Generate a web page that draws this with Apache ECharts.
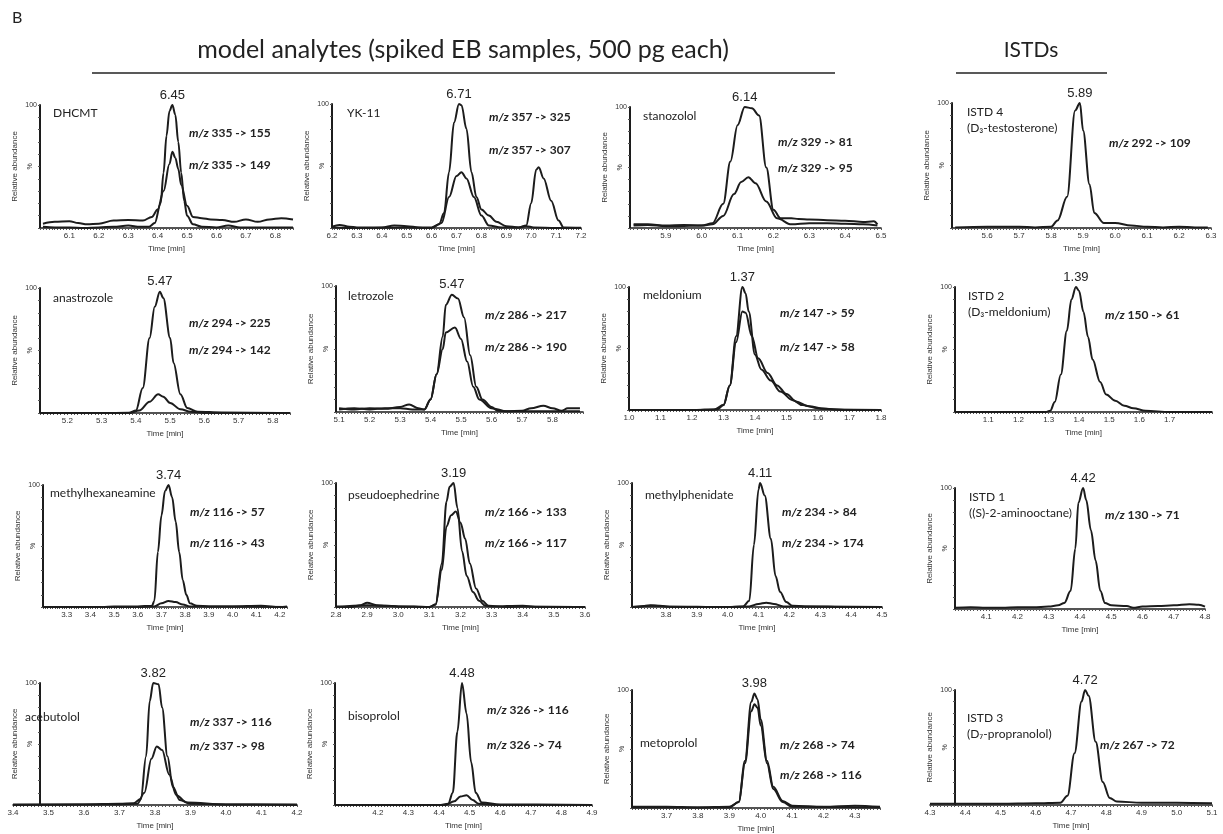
<!DOCTYPE html>
<html><head><meta charset="utf-8">
<script src="https://cdn.jsdelivr.net/npm/echarts@6/dist/echarts.min.js"></script>
<style>html,body{margin:0;background:#fff}#c{width:1223px;height:834px}</style>
</head><body><div id="c"></div>
<script>
// ---------- data (time [min], relative abundance %) ----------
const dhcmt155 = [[6.01,1],[6.05,0.5],[6.1,0.5],[6.15,0],[6.2,0.5],[6.25,1],[6.3,2],[6.34,1],[6.37,1],[6.39,4],[6.41,20],[6.42,45],[6.43,75],[6.44,95],[6.45,100],[6.46,92],[6.47,70],[6.48,45],[6.49,22],[6.5,10],[6.52,3],[6.55,1],[6.6,0.5],[6.64,2],[6.68,0.5],[6.75,0.5],[6.8,0.5],[6.86,0.5]];
const dhcmt149 = [[6.01,3.5],[6.05,5],[6.1,5.5],[6.13,4],[6.16,3],[6.2,3.5],[6.25,6],[6.3,6.5],[6.35,6],[6.38,9],[6.4,15],[6.42,30],[6.44,52],[6.45,62],[6.46,57],[6.47,48],[6.48,35],[6.5,18],[6.52,9],[6.55,8],[6.58,7],[6.62,6.5],[6.66,5],[6.7,7],[6.74,5],[6.78,7],[6.82,8],[6.86,7]];
const yk325 = [[6.2,1],[6.23,2.5],[6.27,1],[6.3,0.5],[6.4,0.5],[6.45,2],[6.5,1.5],[6.55,0.5],[6.6,0.5],[6.63,3],[6.65,12],[6.67,45],[6.69,85],[6.71,100],[6.72,99],[6.74,80],[6.76,45],[6.78,25],[6.8,15],[6.83,10],[6.86,5],[6.9,1.5],[6.95,0.5],[6.98,2],[7.0,20],[7.02,47],[7.03,49],[7.05,40],[7.08,22],[7.11,6],[7.13,0.5],[7.2,0.3]];
const yk307 = [[6.2,0.5],[6.3,0],[6.5,0.5],[6.6,0],[6.64,4],[6.67,25],[6.7,42],[6.72,45],[6.74,40],[6.77,25],[6.8,10],[6.83,2],[6.88,0.5],[6.95,0.5],[6.98,1.5],[7.01,0.5],[7.1,0],[7.2,0]];
const stan81 = [[5.81,3],[5.85,3],[5.9,2],[5.95,2.5],[6.0,2],[6.03,4],[6.06,20],[6.08,55],[6.1,85],[6.12,100],[6.14,99],[6.16,93],[6.18,50],[6.2,15],[6.22,8],[6.25,8],[6.27,7.5],[6.3,7],[6.35,6.5],[6.4,6],[6.45,5],[6.48,5.5],[6.49,3]];
const stan95 = [[5.81,2],[5.85,2.5],[5.9,1.5],[6.0,2],[6.03,3],[6.06,10],[6.09,28],[6.11,38],[6.13,42],[6.15,37],[6.18,22],[6.21,8],[6.25,3],[6.3,4],[6.35,4],[6.4,3.5],[6.45,3],[6.49,2]];
const istd4_109 = [[5.5,0.5],[5.6,1],[5.7,1],[5.75,0.5],[5.8,1],[5.82,6],[5.85,25],[5.875,94],[5.89,100],[5.9,78],[5.92,35],[5.935,12],[5.965,4],[6.0,4],[6.05,2],[6.1,1],[6.15,0.5],[6.2,1],[6.25,0.5],[6.29,0.5]];
const anas225 = [[5.12,0],[5.3,0],[5.38,0.2],[5.4,2],[5.42,20],[5.44,60],[5.455,85],[5.47,97],[5.48,92],[5.5,60],[5.51,40],[5.53,15],[5.55,4],[5.58,1],[5.65,0.5],[5.85,0]];
const anas142 = [[5.12,0],[5.38,0],[5.41,2],[5.44,9],[5.465,15],[5.48,13],[5.5,8],[5.53,3],[5.56,1],[5.6,0],[5.85,0]];
const letr217 = [[5.1,3],[5.15,2],[5.2,3],[5.25,2.5],[5.3,4],[5.33,6],[5.36,3],[5.38,2],[5.4,10],[5.42,30],[5.44,60],[5.45,85],[5.47,93],[5.49,90],[5.51,75],[5.53,45],[5.55,20],[5.57,10],[5.6,4],[5.62,1],[5.65,0.5],[5.7,1],[5.73,3],[5.77,5],[5.8,3],[5.83,1],[5.85,3],[5.89,3]];
const letr190 = [[5.1,2],[5.15,3],[5.2,2],[5.25,3],[5.3,3],[5.34,2],[5.38,2],[5.4,10],[5.42,30],[5.44,50],[5.45,63],[5.48,67],[5.5,58],[5.52,40],[5.54,20],[5.56,10],[5.6,3],[5.65,0.5],[5.7,0.5],[5.8,0.5],[5.89,0.5]];
const meld59 = [[1.0,0],[1.2,0],[1.27,0.5],[1.3,4],[1.32,20],[1.34,60],[1.36,100],[1.37,95],[1.38,80],[1.4,45],[1.42,33],[1.45,24],[1.48,15],[1.52,8],[1.55,4],[1.6,1.5],[1.65,0.5],[1.8,0]];
const meld58 = [[1.0,0],[1.2,0],[1.28,0.5],[1.3,4],[1.32,20],[1.34,55],[1.36,80],[1.37,79],[1.39,60],[1.41,42],[1.44,30],[1.47,20],[1.5,13],[1.53,7],[1.57,3],[1.62,1],[1.7,0],[1.8,0]];
const istd2_61 = [[0.99,0],[1.2,0],[1.29,0],[1.305,1],[1.32,8],[1.34,30],[1.36,65],[1.375,90],[1.39,100],[1.4,97],[1.415,80],[1.43,60],[1.445,42],[1.47,24],[1.49,14],[1.52,9],[1.55,5],[1.58,3],[1.62,1],[1.7,0],[1.84,0]];
const mhxa57 = [[3.2,0],[3.45,0],[3.5,0.5],[3.6,0.5],[3.66,1],[3.67,5],[3.685,45],[3.7,75],[3.715,95],[3.73,100],[3.745,90],[3.76,70],[3.775,45],[3.79,22],[3.805,10],[3.82,3],[3.85,1],[3.9,0.5],[4.0,0.5],[4.12,1],[4.2,0],[4.23,0.5]];
const mhxa43 = [[3.2,0],[3.6,0],[3.67,0.5],[3.7,3],[3.73,5],[3.76,4],[3.79,2],[3.82,0.5],[4.23,0]];
const pseu133 = [[2.8,0.5],[2.85,0],[2.88,1.5],[2.9,3.5],[2.93,1.5],[2.96,1],[3.0,0.5],[3.05,0.5],[3.1,0],[3.12,2],[3.14,35],[3.155,85],[3.165,97],[3.178,100],[3.19,80],[3.205,45],[3.22,25],[3.24,12],[3.26,5],[3.28,1],[3.3,0.5],[3.4,1],[3.45,0],[3.6,0]];
const pseu117 = [[2.8,0],[2.9,1.5],[2.95,1],[3.0,0.5],[3.1,0],[3.12,2],[3.14,30],[3.155,65],[3.17,74],[3.185,77],[3.2,68],[3.215,55],[3.23,35],[3.25,15],[3.27,5],[3.29,1],[3.35,0],[3.4,0.5],[3.6,0]];
const mphd84 = [[3.69,0],[3.72,0.5],[3.75,1.5],[3.78,1],[3.82,0],[4.0,0],[4.05,0.5],[4.07,5],[4.085,50],[4.1,95],[4.105,100],[4.12,90],[4.14,55],[4.155,25],[4.17,12],[4.19,4],[4.21,1],[4.25,0.5],[4.4,0],[4.5,0]];
const mphd174 = [[3.69,0],[3.76,1],[3.8,0.5],[4.0,0],[4.07,0.5],[4.1,2.5],[4.125,3.5],[4.15,2.5],[4.18,0.5],[4.5,0]];
const istd1_71 = [[4.0,1],[4.05,1.5],[4.1,1],[4.15,1],[4.2,1.5],[4.25,1.5],[4.3,2],[4.33,3],[4.35,5],[4.37,15],[4.385,50],[4.395,88],[4.41,100],[4.42,90],[4.435,65],[4.45,40],[4.465,15],[4.48,5],[4.5,3],[4.55,2.5],[4.57,1],[4.6,2],[4.65,2.5],[4.7,3],[4.75,4],[4.78,3.5],[4.8,2]];
const aceb116 = [[3.4,0.5],[3.5,0.5],[3.6,0.5],[3.7,1],[3.74,1.5],[3.76,5],[3.775,40],[3.785,85],[3.795,100],[3.81,99],[3.82,80],[3.835,40],[3.85,15],[3.87,4],[3.9,1],[4.0,0.5],[4.2,0.5]];
const aceb98 = [[3.4,0],[3.7,0.5],[3.75,1],[3.77,10],[3.79,38],[3.805,48],[3.82,45],[3.84,25],[3.86,8],[3.89,2],[4.0,0.5],[4.2,0]];
const biso116 = [[4.06,0],[4.4,0],[4.43,1],[4.445,10],[4.46,60],[4.475,100],[4.49,75],[4.505,35],[4.52,10],[4.54,2],[4.6,0.5],[4.9,0]];
const biso74 = [[4.06,0],[4.42,0],[4.45,3],[4.47,7],[4.49,8],[4.51,4],[4.53,1],[4.6,0],[4.9,0]];
const meto74 = [[3.59,1],[3.7,1],[3.8,0.5],[3.9,1],[3.93,5],[3.95,40],[3.97,90],[3.98,97],[3.99,92],[4.0,75],[4.02,40],[4.04,18],[4.07,6],[4.1,2],[4.2,1],[4.3,2],[4.38,1]];
const meto116 = [[3.59,0.5],[3.7,0.5],[3.9,0.5],[3.93,5],[3.95,38],[3.97,82],[3.98,88],[3.99,85],[4.0,70],[4.02,38],[4.04,16],[4.07,5],[4.1,1],[4.38,0.5]];
const istd3_72 = [[4.3,1],[4.4,1],[4.5,1],[4.6,1.5],[4.67,2],[4.69,8],[4.71,45],[4.73,90],[4.74,100],[4.75,95],[4.77,55],[4.79,20],[4.81,6],[4.83,3],[4.9,2],[5.0,2],[5.1,1.5]];

const compoundNames = [['DHCMT'],['YK-11'],['stanozolol'],['ISTD 4','(D₃-testosterone)'],
  ['anastrozole'],['letrozole'],['meldonium'],['ISTD 2','(D₃-meldonium)'],
  ['methylhexaneamine'],['pseudoephedrine'],['methylphenidate'],['ISTD 1','((S)-2-aminooctane)'],
  ['acebutolol'],['bisoprolol'],['metoprolol'],['ISTD 3','(D₇-propranolol)']];
const transitions = [['335 -> 155','335 -> 149'],['357 -> 325','357 -> 307'],['329 -> 81','329 -> 95'],['292 -> 109'],
  ['294 -> 225','294 -> 142'],['286 -> 217','286 -> 190'],['147 -> 59','147 -> 58'],['150 -> 61'],
  ['116 -> 57','116 -> 43'],['166 -> 133','166 -> 117'],['234 -> 84','234 -> 174'],['130 -> 71'],
  ['337 -> 116','337 -> 98'],['326 -> 116','326 -> 74'],['268 -> 74','268 -> 116'],['267 -> 72']];
const peakLabels = ['6.45','6.71','6.14','5.89','5.47','5.47','1.37','1.39','3.74','3.19','4.11','4.42','3.82','4.48','3.98','4.72'];
const timeRanges = [[6.0,6.86],[6.2,7.2],[5.8,6.5],[5.49,6.3],[5.12,5.85],[5.09,5.9],[1.0,1.8],[0.99,1.84],
  [3.2,4.23],[2.8,3.6],[3.69,4.5],[4.0,4.8],[3.4,4.2],[4.06,4.9],[3.59,4.38],[4.3,5.1]];
// first and last tick label printed on each time axis
const tickLabelSpan = [[6.1,6.8],[6.2,7.2],[5.9,6.5],[5.6,6.3],[5.2,5.8],[5.1,5.8],[1.0,1.8],[1.1,1.7],
  [3.3,4.2],[2.8,3.6],[3.8,4.5],[4.1,4.8],[3.4,4.2],[4.2,4.9],[3.7,4.3],[4.3,5.1]];
const traces = [[dhcmt155,dhcmt149],[yk325,yk307],[stan81,stan95],[istd4_109],
  [anas225,anas142],[letr217,letr190],[meld59,meld58],[istd2_61],
  [mhxa57,mhxa43],[pseu133,pseu117],[mphd84,mphd174],[istd1_71],
  [aceb116,aceb98],[biso116,biso74],[meto74,meto116],[istd3_72]];

// ---------- layout (pixels) ----------
// plot box: left x (start of time axis), top y (=100 %), right x, baseline y ; yShift = y axis position inside box
const boxes = [[40,105,293,228],[332,104,581,228],[630,107,881,228],[952,103,1211,228],
  [40,288,290,413],[336,286,583,412],[629,287,881,410],[955,287,1212,412],
  [43,485,287,607],[336,483,585,607],[632,483,882,607],[955,488,1205,609],
  [13,683,297,805],[335,683,592,805],[632,690,880,808],[930,690,1212,805]];
const yShift = [0,0,0,0, 0,0,0,0, 0,0,0,0, 27,0,0,25];
const nameXY = [[53,113],[347,113],[643,116],[967,112],[53,298],[348,296],[643,295],[968,296],
  [50,493],[348,495],[645,495],[969,497],[25,717],[348,716],[640,743],[967,718]];
const mzX = [189,489,778,1109,189,485,780,1105,190,485,782,1105,190,487,780,1100];
const mzY = [[133,165],[117,150],[142,168],[143],[323,350],[315,347],[313,347],[315],
  [512,543],[512,543],[512,543],[515],[722,746],[710,745],[745,775],[745]];

const FONT_TXT = 'Lato, "Open Sans", sans-serif';
const FONT_AX = '"Liberation Sans", Arial, sans-serif';
const INK = '#1c1c1c';

const grids=[], xAxes=[], yAxes=[], series=[], graphics=[];
boxes.forEach((b,i)=>{
  const [L,T,R,B] = b;
  grids.push({left:L, top:T, width:R-L, height:B-T, containLabel:false});
  const [mn,mx] = timeRanges[i];
  const [lf,lt] = tickLabelSpan[i];
  xAxes.push({type:'value', gridIndex:i, min:mn, max:mx, interval:0.01,
    name:'Time [min]', nameLocation:'middle', nameGap:17,
    nameTextStyle:{fontSize:8, color:'#333', fontFamily:FONT_AX},
    axisLine:{show:true, onZero:false, lineStyle:{color:INK, width:1.6}},
    axisTick:{show:true, length:2, lineStyle:{color:'#555', width:1}},
    splitLine:{show:false},
    axisLabel:{fontSize:8, color:'#333', fontFamily:FONT_AX, margin:4, showMinLabel:true, showMaxLabel:true,
      formatter:(v)=>{const n=Math.round(v*100); if(n%10!==0) return ''; if(v<lf-1e-6 || v>lt+1e-6) return ''; return (n/100).toFixed(1);}}
  });
  yAxes.push({type:'value', gridIndex:i, min:0, max:100, interval:10, offset:-yShift[i],
    name:'Relative abundance', nameLocation:'middle', nameGap:21,
    nameTextStyle:{fontSize:8, color:'#333', fontFamily:FONT_AX},
    axisLine:{show:true, lineStyle:{color:INK, width:2}},
    axisTick:{show:true, length:2, lineStyle:{color:'#555'}},
    splitLine:{show:false},
    axisLabel:{fontSize:7, color:'#333', fontFamily:FONT_AX, margin:3,
      formatter:(v)=> v===100 ? '100' : ''}
  });
  traces[i].forEach((d,k)=>{
    let best=d[0]; d.forEach(p=>{ if(p[1]>best[1]) best=p; });
    series.push({type:'line', xAxisIndex:i, yAxisIndex:i, data:d, symbol:'none',
      smooth:0.35, smoothMonotone:'x', clip:true,
      lineStyle:{color:INK, width:2}, z:3,
      markPoint: k===0 ? {symbol:'circle', symbolSize:1, itemStyle:{color:'rgba(0,0,0,0)'},
        label:{show:true, position:'top', distance:3, formatter:peakLabels[i], fontSize:13, color:'#222', fontFamily:FONT_AX},
        data:[{coord:best}]} : undefined
    });
  });
  graphics.push({type:'text', x:L+yShift[i]-10, y:(T+B)/2, rotation:Math.PI/2,
    style:{text:'%', fontSize:7, fontFamily:FONT_AX, fill:'#333', align:'center', verticalAlign:'middle'}});
  compoundNames[i].forEach((s,j)=>{
    graphics.push({type:'text', x:nameXY[i][0], y:nameXY[i][1]+j*16,
      style:{text:s, fontSize:12, fontFamily:FONT_TXT, fill:'#222', align:'left', verticalAlign:'middle'}});
  });
  transitions[i].forEach((s,j)=>{
    graphics.push({type:'text', x:mzX[i], y:mzY[i][j],
      style:{text:'{it|m/z} '+s, fontSize:12, fontWeight:'bold', fontFamily:FONT_TXT, fill:'#222', align:'left', verticalAlign:'middle',
        rich:{it:{fontStyle:'italic', fontWeight:'bold', fontSize:12, fontFamily:FONT_TXT, fill:'#222'}}}});
  });
});

graphics.push({type:'text', x:12, y:18, style:{text:'B', fontSize:16, fontFamily:FONT_TXT, fill:'#222', verticalAlign:'middle'}});
graphics.push({type:'text', x:463, y:50, style:{text:'model analytes (spiked EB samples, 500 pg each)', fontSize:25, fontFamily:FONT_TXT, fill:'#222', align:'center', verticalAlign:'middle'}});
graphics.push({type:'line', shape:{x1:92,y1:73,x2:835,y2:73}, style:{stroke:'#222', lineWidth:1.5}});
graphics.push({type:'text', x:1031, y:50, style:{text:'ISTDs', fontSize:21, fontFamily:FONT_TXT, fill:'#222', align:'center', verticalAlign:'middle'}});
graphics.push({type:'line', shape:{x1:956,y1:73,x2:1107,y2:73}, style:{stroke:'#222', lineWidth:1.5}});

const chart = echarts.init(document.getElementById('c'), null, {renderer:'canvas'});
chart.setOption({backgroundColor:'#fff', animation:false, grid:grids, xAxis:xAxes, yAxis:yAxes, series:series, graphic:graphics});
</script></body></html>
